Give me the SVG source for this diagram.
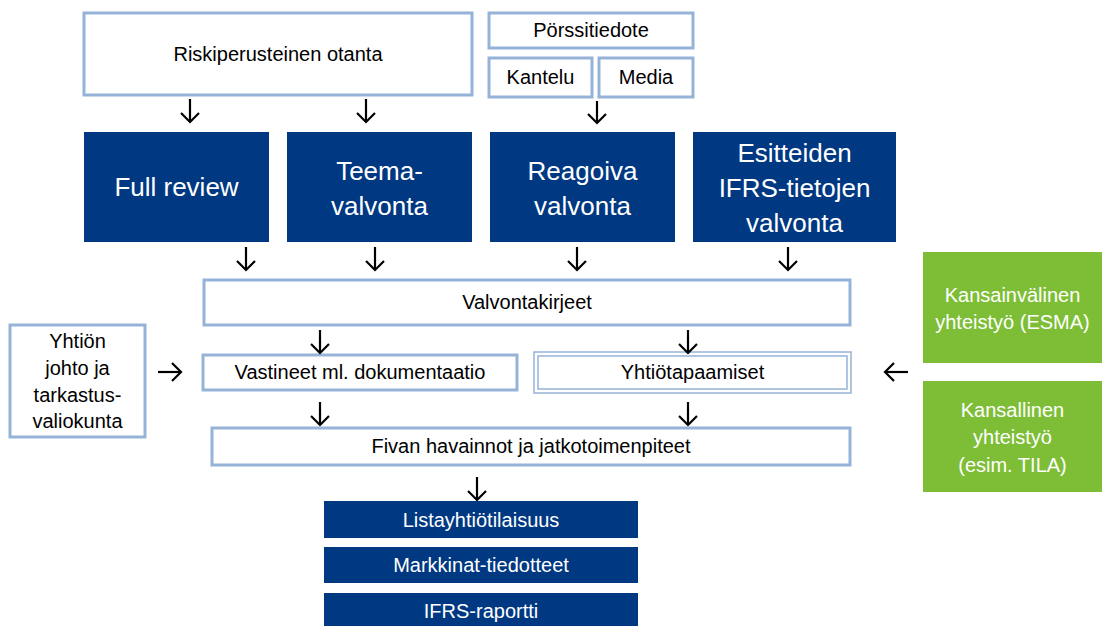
<svg xmlns="http://www.w3.org/2000/svg" width="1102" height="626" viewBox="0 0 1102 626">
<defs>
<style>
.box{fill:#ffffff;stroke:#95B3D7;stroke-width:3}
.thin{fill:none;stroke:#95B3D7;stroke-width:1.5}
.dark{fill:#003882}
.green{fill:#7DBE36}
.t{font-family:"Liberation Sans",Arial,sans-serif;font-size:20px;fill:#000;text-anchor:middle}
.tw{font-family:"Liberation Sans",Arial,sans-serif;font-size:20px;fill:#fff;text-anchor:middle}
.tb{font-family:"Liberation Sans",Arial,sans-serif;font-size:26px;fill:#fff;text-anchor:middle}
.arrow{fill:none;stroke:#000;stroke-width:2.2;marker-end:url(#ah)}
</style>
<marker id="ah" viewBox="0 0 20 20" refX="16" refY="10" markerWidth="20" markerHeight="20" markerUnits="userSpaceOnUse" orient="auto">
<path d="M7,1 L16,10 L7,19" fill="none" stroke="#000" stroke-width="2.2"/>
</marker>
</defs>
<rect width="1102" height="626" fill="#fff"/>

<g id="riskiperusteinen">
<rect class="box" x="84" y="13" width="388" height="82"/>
<text class="t" x="278" y="61">Riskiperusteinen otanta</text>
</g>
<g id="porssitiedote">
<rect class="box" x="489" y="13" width="204" height="35"/>
<text class="t" x="591" y="37">Pörssitiedote</text>
</g>
<g id="kantelu">
<rect class="box" x="489" y="58" width="103" height="39"/>
<text class="t" x="540.5" y="84">Kantelu</text>
</g>
<g id="media">
<rect class="box" x="599" y="58" width="94" height="39"/>
<text class="t" x="646" y="84">Media</text>
</g>

<g id="full-review">
<rect class="dark" x="84" y="132" width="185" height="110"/>
<text class="tb" x="176.5" y="196">Full review</text>
</g>
<g id="teema">
<rect class="dark" x="287" y="132" width="185" height="110"/>
<text class="tb" x="379.5" y="180">Teema-</text>
<text class="tb" x="379.5" y="215">valvonta</text>
</g>
<g id="reagoiva">
<rect class="dark" x="490" y="132" width="185" height="110"/>
<text class="tb" x="582.5" y="180">Reagoiva</text>
<text class="tb" x="582.5" y="215">valvonta</text>
</g>
<g id="esitteiden">
<rect class="dark" x="693" y="132" width="203" height="110"/>
<text class="tb" x="794.5" y="162">Esitteiden</text>
<text class="tb" x="794.5" y="197">IFRS-tietojen</text>
<text class="tb" x="794.5" y="232">valvonta</text>
</g>

<g id="valvontakirjeet">
<rect class="box" x="204" y="280" width="646" height="45"/>
<text class="t" x="527" y="309">Valvontakirjeet</text>
</g>
<g id="yhtion-johto">
<rect class="box" x="10" y="325" width="135" height="112"/>
<text class="t" x="77.5" y="348">Yhtiön</text>
<text class="t" x="77.5" y="375">johto ja</text>
<text class="t" x="77.5" y="402">tarkastus-</text>
<text class="t" x="77.5" y="428">valiokunta</text>
</g>
<g id="vastineet">
<rect class="box" x="203" y="355" width="314" height="35"/>
<text class="t" x="360" y="379">Vastineet ml. dokumentaatio</text>
</g>
<g id="yhtiotapaamiset">
<rect class="thin" x="534" y="352" width="317" height="41"/>
<rect class="thin" x="538" y="356" width="309" height="33"/>
<text class="t" x="692.5" y="379">Yhtiötapaamiset</text>
</g>
<g id="kansainvalinen">
<rect class="green" x="923" y="252" width="179" height="111"/>
<text class="tw" x="1012.5" y="302">Kansainvälinen</text>
<text class="tw" x="1012.5" y="329">yhteistyö (ESMA)</text>
</g>
<g id="kansallinen">
<rect class="green" x="923" y="381" width="179" height="111"/>
<text class="tw" x="1012.5" y="417">Kansallinen</text>
<text class="tw" x="1012.5" y="444">yhteistyö</text>
<text class="tw" x="1012.5" y="472">(esim. TILA)</text>
</g>
<g id="fivan-havainnot">
<rect class="box" x="212" y="428" width="638" height="37"/>
<text class="t" x="531" y="453">Fivan havainnot ja jatkotoimenpiteet</text>
</g>
<g id="listayhtiotilaisuus">
<rect class="dark" x="324" y="501" width="314" height="37"/>
<text class="tw" x="481" y="527">Listayhtiötilaisuus</text>
</g>
<g id="markkinat">
<rect class="dark" x="324" y="547" width="314" height="36"/>
<text class="tw" x="481" y="572">Markkinat-tiedotteet</text>
</g>
<g id="ifrs-raportti">
<rect class="dark" x="324" y="593" width="314" height="33"/>
<text class="tw" x="481" y="618">IFRS-raportti</text>
</g>

<g id="connectors">
<path class="arrow" d="M190,99 V122"/>
<path class="arrow" d="M366,99 V122"/>
<path class="arrow" d="M597,101 V123"/>
<path class="arrow" d="M246,247 V270"/>
<path class="arrow" d="M375,247 V270"/>
<path class="arrow" d="M577,247 V270"/>
<path class="arrow" d="M788,247 V270"/>
<path class="arrow" d="M320,330 V353"/>
<path class="arrow" d="M688,330 V353"/>
<path class="arrow" d="M158,372 H181"/>
<path class="arrow" d="M908,372 H885"/>
<path class="arrow" d="M320,402 V425"/>
<path class="arrow" d="M688,402 V425"/>
<path class="arrow" d="M477,477 V500"/>
</g>
</svg>
